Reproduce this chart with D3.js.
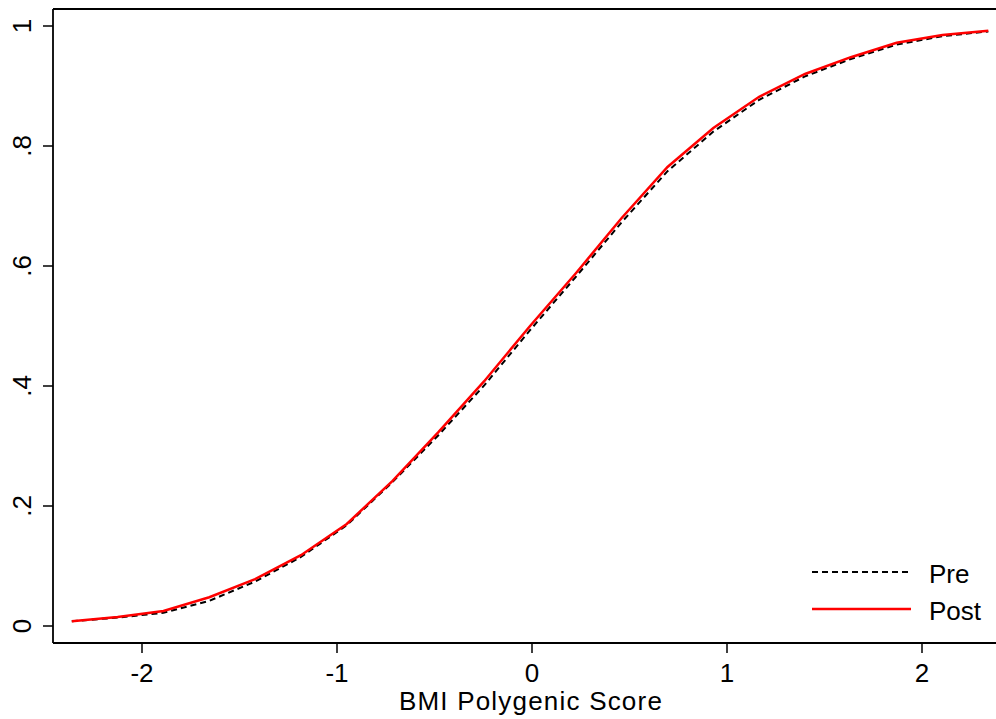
<!DOCTYPE html>
<html><head><meta charset="utf-8">
<script src="https://cdn.jsdelivr.net/npm/d3@7"></script>
<style>body{margin:0;background:#fff}svg{display:block}text{font-family:"Liberation Sans",Arial,Helvetica,sans-serif;fill:#000}</style>
</head><body>
<script>
const xValues = [-2.36,-2.125,-1.89,-1.655,-1.42,-1.185,-0.95,-0.715,-0.48,-0.245,-0.01,0.225,0.46,0.695,0.93,1.165,1.40,1.635,1.87,2.105,2.34];
const postValues = [0.008,0.015,0.025,0.048,0.078,0.118,0.170,0.242,0.323,0.408,0.500,0.588,0.680,0.765,0.830,0.882,0.920,0.948,0.972,0.985,0.992];
const preValues  = [0.008,0.014,0.022,0.042,0.074,0.115,0.168,0.240,0.318,0.401,0.493,0.582,0.673,0.758,0.824,0.877,0.916,0.945,0.969,0.983,0.991];
const xTicks = [-2,-1,0,1,2];
const yTicks = [0,0.2,0.4,0.6,0.8,1];
const yTickLabels = ["0",".2",".4",".6",".8","1"];
const seriesNames = ["Pre","Post"];

(function(){
const W=996,H=719;
const FS=26;
const svg=d3.select("body").append("svg").attr("width",W).attr("height",H);
const x=d3.scaleLinear().domain([-2,2]).range([142,922]);
const y=d3.scaleLinear().domain([0,1]).range([626,26]);
const pL=53, pR=996, pT=9, pB=643;

svg.append("line").attr("x1",pL).attr("x2",pR).attr("y1",pT).attr("y2",pT).attr("stroke","#000").attr("stroke-width",1.8);

const gx=svg.append("g").attr("transform",`translate(0,${pB})`);
gx.append("line").attr("x1",pL).attr("x2",pR).attr("stroke","#000").attr("stroke-width",1.8);
gx.selectAll(".t").data(xTicks).enter().append("line").attr("x1",d=>x(d)).attr("x2",d=>x(d)).attr("y1",0).attr("y2",10).attr("stroke","#000").attr("stroke-width",1.5);
gx.selectAll(".l").data(xTicks).enter().append("text").attr("x",d=>x(d)).attr("y",39).attr("text-anchor","middle").attr("font-size",FS).text(d=>d);
svg.append("text").attr("x",531).attr("y",710).attr("text-anchor","middle").attr("font-size",FS).attr("letter-spacing",1.2).text("BMI Polygenic Score");

const gy=svg.append("g").attr("transform",`translate(${pL},0)`);
gy.append("line").attr("y1",pT).attr("y2",pB).attr("stroke","#000").attr("stroke-width",1.8);
gy.selectAll(".t").data(yTicks).enter().append("line").attr("y1",d=>y(d)).attr("y2",d=>y(d)).attr("x1",-10).attr("x2",0).attr("stroke","#000").attr("stroke-width",1.5);
gy.selectAll(".l").data(yTicks).enter().append("text")
  .attr("transform",(d)=>`translate(-22,${y(d)}) rotate(-90)`)
  .attr("text-anchor","middle").attr("font-size",FS).text((d,i)=>yTickLabels[i]);

const line=d3.line().x(d=>x(d[0])).y(d=>y(d[1]));
const preData=xValues.map((v,i)=>[v,preValues[i]]);
const postData=xValues.map((v,i)=>[v,postValues[i]]);
svg.append("path").datum(preData).attr("d",line).attr("fill","none").attr("stroke","#000").attr("stroke-width",2).attr("stroke-dasharray","6,4");
svg.append("path").datum(postData).attr("d",line).attr("fill","none").attr("stroke","#ff0000").attr("stroke-width",2.5);

const lg=svg.append("g");
lg.append("line").attr("x1",812).attr("x2",910).attr("y1",572).attr("y2",572).attr("stroke","#000").attr("stroke-width",2).attr("stroke-dasharray","6,4");
lg.append("line").attr("x1",812).attr("x2",911).attr("y1",609).attr("y2",609).attr("stroke","#ff0000").attr("stroke-width",2.5);
lg.append("text").attr("x",929).attr("y",583).attr("font-size",FS).text(seriesNames[0]);
lg.append("text").attr("x",929).attr("y",620).attr("font-size",FS).text(seriesNames[1]);
})();
</script>
</body></html>
